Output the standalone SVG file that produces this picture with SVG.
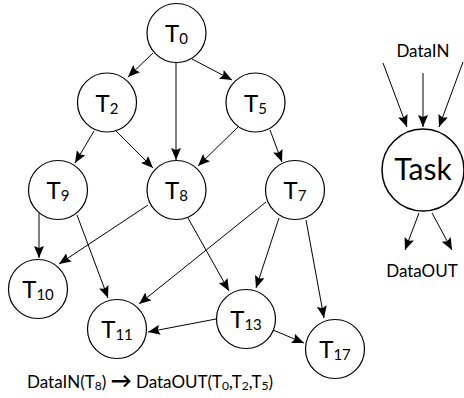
<svg xmlns="http://www.w3.org/2000/svg" width="464" height="398" viewBox="0 0 464 398">
<style>
.n{fill:#fff;stroke:#000;stroke-width:1.2}
.t{font-family:Lato,"Liberation Sans",sans-serif;font-size:24px;text-anchor:middle;fill:#000}
.s{font-size:15px}
.e{stroke:#000;stroke-width:1;fill:none;marker-end:url(#a)}
.lb{font-family:Lato,"Liberation Sans",sans-serif;font-size:17px;fill:#000}
.sb{font-size:12px}
</style>
<defs>
<marker id="a" markerUnits="userSpaceOnUse" markerWidth="13" markerHeight="10" refX="12" refY="5" orient="auto">
<path d="M0,0 L12,5 L0,10 L2,5 z" fill="#000"/>
</marker>
</defs>
<g id="connectors">
<line class="e" x1="153" y1="53" x2="128" y2="77"/>
<line class="e" x1="192" y1="59" x2="232" y2="80"/>
<line class="e" x1="176" y1="63" x2="176" y2="160"/>
<line class="e" x1="94" y1="131" x2="75" y2="163"/>
<line class="e" x1="116" y1="131" x2="153" y2="168"/>
<line class="e" x1="238" y1="127" x2="198" y2="166"/>
<line class="e" x1="270" y1="130" x2="282" y2="162"/>
<line class="e" x1="39" y1="213" x2="39" y2="258"/>
<line class="e" x1="77" y1="215" x2="108" y2="298"/>
<line class="e" x1="148" y1="205" x2="59" y2="264"/>
<line class="e" x1="188" y1="218" x2="229" y2="291"/>
<line class="e" x1="266" y1="202" x2="139" y2="304"/>
<line class="e" x1="279" y1="218" x2="256" y2="288"/>
<line class="e" x1="306" y1="220" x2="324" y2="318"/>
<line class="e" x1="216" y1="319" x2="148" y2="332"/>
<line class="e" x1="273" y1="330" x2="304" y2="343"/>
<line class="e" x1="383" y1="63" x2="407" y2="127"/>
<line class="e" x1="423" y1="73" x2="423" y2="127"/>
<line class="e" x1="463" y1="62" x2="439" y2="127"/>
<line class="e" x1="419" y1="213" x2="405" y2="250"/>
<line class="e" x1="432" y1="213" x2="452" y2="250"/>
</g>
<g id="T0"><circle class="n" cx="176.5" cy="33" r="29.5"/><text class="t" x="176.5" y="42">T<tspan class="s" dy="2">0</tspan></text></g>
<g id="T2"><circle class="n" cx="107" cy="102.5" r="29.5"/><text class="t" x="107" y="111.5">T<tspan class="s" dy="2">2</tspan></text></g>
<g id="T5"><circle class="n" cx="255.5" cy="102.5" r="29.5"/><text class="t" x="255.5" y="111.5">T<tspan class="s" dy="2">5</tspan></text></g>
<g id="T9"><circle class="n" cx="58" cy="190" r="29.5"/><text class="t" x="58" y="199">T<tspan class="s" dy="2">9</tspan></text></g>
<g id="T8"><circle class="n" cx="176.5" cy="190" r="29.5"/><text class="t" x="176.5" y="199">T<tspan class="s" dy="2">8</tspan></text></g>
<g id="T7"><circle class="n" cx="295" cy="190" r="29.5"/><text class="t" x="295" y="199">T<tspan class="s" dy="2">7</tspan></text></g>
<g id="T10"><circle class="n" cx="38" cy="289" r="29.5"/><text class="t" x="38" y="298">T<tspan class="s" dy="2">10</tspan></text></g>
<g id="T11"><circle class="n" cx="117" cy="329" r="29.5"/><text class="t" x="117" y="338">T<tspan class="s" dy="2">11</tspan></text></g>
<g id="T13"><circle class="n" cx="246" cy="319" r="29.5"/><text class="t" x="246" y="328">T<tspan class="s" dy="2">13</tspan></text></g>
<g id="T17"><circle class="n" cx="335" cy="349" r="29.5"/><text class="t" x="335" y="358">T<tspan class="s" dy="2">17</tspan></text></g>
<g id="Task"><circle class="n" cx="423" cy="170" r="41" style="stroke-width:1.5"/><text class="t" x="423" y="180" style="font-size:30px">Task</text></g>
<text class="lb" x="423" y="57" text-anchor="middle">DataIN</text>
<text class="lb" x="422" y="277" text-anchor="middle">DataOUT</text>
<text class="lb" x="27" y="388">DataIN(T<tspan class="sb" dy="2">8</tspan><tspan dy="-2">) </tspan><tspan font-weight="bold" style="font-size:21px">→</tspan>  DataOUT(T<tspan class="sb" dy="2">0</tspan><tspan dy="-2">,T</tspan><tspan class="sb" dy="2">2</tspan><tspan dy="-2">,T</tspan><tspan class="sb" dy="2">5</tspan><tspan dy="-2">)</tspan></text>
</svg>
